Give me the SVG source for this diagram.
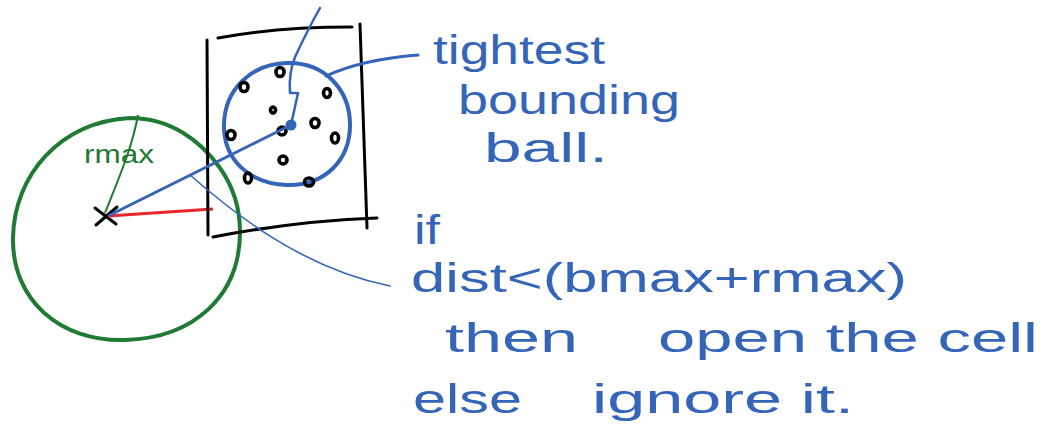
<svg xmlns="http://www.w3.org/2000/svg" width="1061" height="442" viewBox="0 0 1061 442">
<style>
.blue{fill:none;stroke:#3465b8;stroke-linecap:round;stroke-linejoin:round}
.blk{fill:none;stroke:#000;stroke-width:3;stroke-linecap:round}
.dot{fill:none;stroke:#000;stroke-width:3.6}
.txt{font-family:"Liberation Sans",sans-serif;fill:#3465b8;font-size:40px}
</style>
<rect width="1061" height="442" fill="#fff"/>
<g id="cut-circle">
<path d="M130,118 C60,122 14,175 13,238 C12,300 60,342 125,340 C195,338 240,295 240,232 C240,205 232,185 220,168 C200,140 170,118 130,118 Z" fill="none" stroke="#1f7a34" stroke-width="4"/>
<path d="M105,213 C120,175 132,148 138,115" fill="none" stroke="#1f7a34" stroke-width="2"/>
<text x="84" y="163" font-family="Liberation Sans,sans-serif" font-size="26" fill="#1f7a34" textLength="70" lengthAdjust="spacingAndGlyphs">rmax</text>
<path d="M95,208 L116,224 M96,225 L117,207" class="blk"/>
<path d="M108,216 L213,209" fill="none" stroke="#e8262b" stroke-width="3"/>
</g>
<g id="cell">
<path d="M207,40 L208,235" class="blk"/>
<path d="M218,38 C260,30 310,27 352,27" class="blk"/>
<path d="M360,24 L367,228" class="blk"/>
<path d="M213,237 C260,228 320,220 377,218" class="blk"/>
</g>
<g id="ball">
<path d="M287,63 C325,62 350,90 350,125 C350,160 325,186 287,185 C250,184 223,160 224,124 C225,90 250,64 287,63 Z" class="blue" stroke-width="4"/>
<g class="dot">
<ellipse cx="280" cy="72" rx="4" ry="4.5"/>
<ellipse cx="244" cy="87" rx="4" ry="4.5"/>
<ellipse cx="327" cy="93" rx="3.5" ry="4.5"/>
<ellipse cx="273" cy="110" rx="2.5" ry="3"/>
<ellipse cx="282" cy="131" rx="4" ry="4"/>
<ellipse cx="315" cy="123" rx="4" ry="4.5"/>
<ellipse cx="231" cy="135" rx="4" ry="4.5"/>
<ellipse cx="335" cy="138" rx="3.5" ry="5"/>
<ellipse cx="283" cy="160" rx="4" ry="4"/>
<ellipse cx="248" cy="178" rx="3.5" ry="5"/>
<ellipse cx="309" cy="182" rx="4.5" ry="4"/>
</g>
<circle cx="291" cy="125" r="5.5" fill="#3465b8"/>
</g>
<g id="connectors">
<path d="M110,215 L291,125" class="blue" stroke-width="3"/>
<path d="M291,125 L298,93 L290,93 C289,80 291,67 295,57 C303,40 312,22 320,8" class="blue" stroke-width="2.5"/>
<path d="M326,76 C350,65 380,58 418,55" class="blue" stroke-width="3"/>
<path d="M190,175 C230,210 300,268 390,286" class="blue" stroke-width="1.6"/>
</g>
<g id="labels" class="txt">
<text x="433" y="64" textLength="172" lengthAdjust="spacingAndGlyphs">tightest</text>
<text x="458" y="114" textLength="222" lengthAdjust="spacingAndGlyphs">bounding</text>
<text x="484" y="162" textLength="124" lengthAdjust="spacingAndGlyphs">ball.</text>
<text x="414" y="244" textLength="26" lengthAdjust="spacingAndGlyphs">if</text>
<text x="411" y="292" textLength="496" lengthAdjust="spacingAndGlyphs">dist&lt;(bmax+rmax)</text>
<text x="445" y="352" textLength="133" lengthAdjust="spacingAndGlyphs">then</text>
<text x="658" y="352" textLength="380" lengthAdjust="spacingAndGlyphs">open the cell</text>
<text x="413" y="413" textLength="109" lengthAdjust="spacingAndGlyphs">else</text>
<text x="592" y="413" textLength="262" lengthAdjust="spacingAndGlyphs">ignore it.</text>
</g>
</svg>
